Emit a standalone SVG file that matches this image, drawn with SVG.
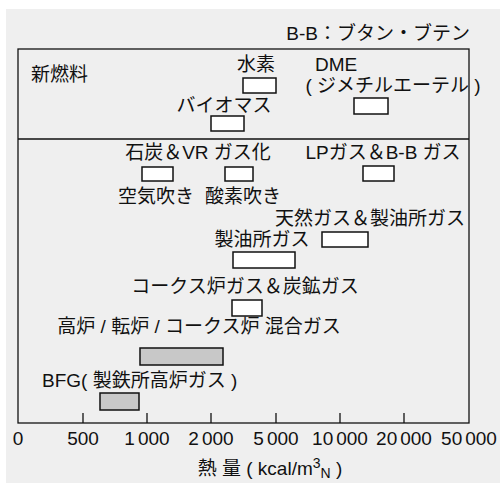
<svg xmlns="http://www.w3.org/2000/svg" width="500" height="483" viewBox="0 0 500 483">
<style>
text{font-family:"Liberation Sans","Noto Sans CJK JP",sans-serif;font-size:19px;fill:#111}
.m{text-anchor:middle}
.e{text-anchor:end}
.b{fill:#fff;stroke:#111;stroke-width:1.5}
.g{fill:#c8c8c8;stroke:#111;stroke-width:1.5}
.ax{stroke:#111;stroke-width:1.3;fill:none}
</style>
<rect x="6" y="9" width="494" height="474" fill="#efefef"/>
<rect x="18" y="49" width="451" height="374" fill="#fff" class="ax"/>
<line x1="18" y1="139" x2="469" y2="139" class="ax"/>
<g id="axis">
<path class="ax" d="M83 413V423M147 413V423M211 413V423M276 413V423M340 413V423M404 413V423"/>
<text class="m" x="18" y="445">0</text>
<text class="m" x="83" y="445">500</text>
<text class="m" x="147" y="445">1<tspan dx="3">000</tspan></text>
<text class="m" x="211" y="445">2<tspan dx="3">000</tspan></text>
<text class="m" x="276" y="445">5<tspan dx="3">000</tspan></text>
<text class="m" x="340" y="445">10<tspan dx="3">000</tspan></text>
<text class="m" x="404" y="445">20<tspan dx="3">000</tspan></text>
<text class="m" x="469" y="445">50<tspan dx="3">000</tspan></text>
<text class="m" x="270" y="475">熱 量 ( kcal/m<tspan dy="-7" font-size="14">3</tspan><tspan dy="10" font-size="14">N</tspan><tspan dy="-3"> )</tspan></text>
</g>
<g id="legend"><text class="e" x="470" y="40">B-B：ブタン・ブテン</text></g>
<g id="new-fuel"><text x="31" y="81">新燃料</text></g>
<g id="connectors"></g>
<g id="hydrogen"><text class="m" x="256" y="71">水素</text><rect class="b" x="243" y="78" width="33" height="15"/></g>
<g id="dme"><text x="315" y="71">DME</text><text class="m" x="393" y="92">( ジメチルエーテル )</text><rect class="b" x="354" y="98" width="34" height="16"/></g>
<g id="biomass"><text class="m" x="224" y="112">バイオマス</text><rect class="b" x="211" y="116" width="33" height="15"/></g>
<g id="coal-vr"><text class="m" x="198" y="159">石炭＆VR ガス化</text>
<rect class="b" x="142" y="167" width="31" height="14"/><text class="m" x="156" y="203">空気吹き</text>
<rect class="b" x="225" y="167" width="28" height="14"/><text class="m" x="243" y="203">酸素吹き</text></g>
<g id="lpg"><text class="m" x="383" y="159">LPガス＆B-B ガス</text><rect class="b" x="363" y="166" width="31" height="15"/></g>
<g id="natural-gas"><text class="m" x="370" y="225">天然ガス＆製油所ガス</text><rect class="b" x="322" y="232" width="46" height="15"/></g>
<g id="refinery-gas"><text class="m" x="262" y="246">製油所ガス</text><rect class="b" x="233" y="252" width="62" height="16"/></g>
<g id="coke-oven"><text class="m" x="245" y="293">コークス炉ガス＆炭鉱ガス</text><rect class="b" x="232" y="300" width="30" height="16"/></g>
<g id="mixed"><text class="m" x="199" y="333">高炉 / 転炉 / コークス炉 混合ガス</text><rect class="g" x="140" y="348" width="83" height="17"/></g>
<g id="bfg"><text x="42" y="386.5">BFG( 製鉄所高炉ガス )</text><rect class="g" x="100" y="393" width="39" height="17"/></g>
</svg>
